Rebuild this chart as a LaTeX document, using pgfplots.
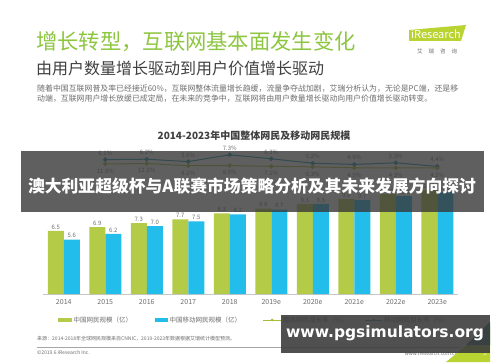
\documentclass[border=0pt]{standalone}
\usepackage{pgfplots}
\pgfplotsset{compat=1.18}
\usepackage{fontspec}
\setmainfont{Noto Sans CJK SC}
\newfontfamily\wm{DejaVu Sans}
\definecolor{cgreen}{HTML}{B4CB48}
\definecolor{cblue}{HTML}{22BDEB}
\definecolor{cteal}{HTML}{1B8FA6}
\definecolor{colive}{HTML}{A8BC3A}
\definecolor{tgreen}{HTML}{8DC63F}
\definecolor{tgray}{HTML}{404040}
\definecolor{lgray}{HTML}{6E6E6E}
\definecolor{logog}{HTML}{B9D332}
\begin{document}
\begin{tikzpicture}[x=1pt,y=1pt]
\fill[white] (0,0) rectangle (500,362);
% header
\node[anchor=west,text=tgreen,font=\fontsize{21.3}{21.3}\selectfont,inner sep=0] at (36,320) {增长转型，互联网基本面发生变化};
\node[anchor=west,text=tgray,font=\fontsize{16}{16}\selectfont,inner sep=0] at (36,294) {由用户数量增长驱动到用户价值增长驱动};
\node[anchor=west,text=lgray,font=\fontsize{7.9}{7.9}\selectfont,inner sep=0] at (37,273) {随着中国互联网普及率已经接近60\%，互联网整体流量增长趋缓，流量争夺战加剧，艾瑞分析认为，无论是PC端，还是移};
\node[anchor=west,text=lgray,font=\fontsize{7.9}{7.9}\selectfont,inner sep=0] at (37,263) {动端，互联网用户增长放缓已成定局，在未来的竞争中，互联网将由用户数量增长驱动向用户价值增长驱动转变。};
% logo
\fill[logog] (409,332) -- (466,337) -- (461,321) -- (409,321) -- cycle;
\node[text=white,font=\fontsize{11}{11}\selectfont,inner sep=0] at (436,327.5) {iResearch};
\node[text=lgray,font=\fontsize{5.5}{5.5}\selectfont,inner sep=0] at (437,311) {艾\hspace{6pt}瑞\hspace{6pt}咨\hspace{6pt}询};
% chart title
\node[text=tgray,font=\bfseries\fontsize{10}{10}\selectfont,inner sep=0] at (254,226) {2014-2023年中国整体网民及移动网民规模};
% bars
\begin{axis}[at={(43pt,68pt)}, anchor=south west, scale only axis,
  width=415pt, height=145.5pt, xmin=-0.5, xmax=9.5, ymin=0, ymax=15,
  axis x line*=bottom, axis y line=none,
  x axis line style={draw=black!22,-},
  xtick={0,...,9}, xticklabels={2014,2015,2016,2017,2018,2019e,2020e,2021e,2022e,2023e},
  major tick length=0pt,
  xticklabel style={font=\fontsize{7}{7}\selectfont, text=lgray, yshift=-2pt},
  ybar=0pt, bar width=16pt, enlargelimits=false,
  nodes near coords,
  every node near coord/.append style={font=\fontsize{6}{6}\selectfont, text=lgray, inner sep=1.5pt},
  /pgf/number format/assume math mode=true,
  /pgf/number format/fixed, /pgf/number format/precision=1, /pgf/number format/fixed zerofill]
\addplot[fill=cgreen, draw=none] coordinates {(0,6.5)(1,6.9)(2,7.3)(3,7.7)(4,8.3)(5,8.8)(6,9.3)(7,9.8)(8,10.3)(9,10.7)};
\addplot[fill=cblue, draw=none] coordinates {(0,5.6)(1,6.2)(2,7.0)(3,7.5)(4,8.2)(5,8.7)(6,9.3)(7,9.7)(8,10.1)(9,10.5)};
\end{axis}
% upper growth line
\begin{axis}[at={(43pt,68pt)}, anchor=south west, scale only axis,
  width=415pt, height=145.5pt, xmin=-0.5, xmax=9.5, ymin=-27.5, ymax=8.875,
  hide axis, clip=false,
  /pgf/number format/assume math mode=true,
  /pgf/number format/fixed, /pgf/number format/precision=1, /pgf/number format/fixed zerofill]
\addplot[cteal, line width=1pt, mark=*, mark size=1.7pt,
  nodes near coords={\pgfmathprintnumber{\pgfplotspointmeta}\%},
  every node near coord/.style={anchor=south, yshift=0.5pt, font=\fontsize{6}{6}\selectfont, text=lgray}]
  coordinates {(1,6.1)(2,6.2)(3,5.6)(4,7.3)(5,6.3)(6,5.2)(7,4.9)(8,5.3)(9,4.4)};
\end{axis}
% lower growth line
\begin{axis}[at={(43pt,68pt)}, anchor=south west, scale only axis,
  width=415pt, height=145.5pt, xmin=-0.5, xmax=9.5, ymin=-220.8, ymax=39,
  hide axis, clip=false,
  /pgf/number format/assume math mode=true,
  /pgf/number format/fixed, /pgf/number format/precision=1, /pgf/number format/fixed zerofill]
\addplot[colive, line width=1pt, mark=*, mark size=1.7pt,
  nodes near coords={\pgfmathprintnumber{\pgfplotspointmeta}\%},
  every node near coord/.style={anchor=north, yshift=-1pt, font=\fontsize{6}{6}\selectfont, text=lgray}]
  coordinates {(1,11.3)(2,12.2)(3,8.2)(4,8.5)(5,7.1)(6,6.3)(7,4.5)(8,4.3)(9,4.2)};
\end{axis}
% legend
\draw[cgreen, line width=3.5pt] (58,42) -- (72,42);
\node[anchor=west, font=\fontsize{6.5}{6.5}\selectfont, text=lgray, inner sep=0] at (73.5,42) {中国网民规模（亿）};
\draw[cblue, line width=3.5pt] (155,42) -- (168,42);
\node[anchor=west, font=\fontsize{6.5}{6.5}\selectfont, text=lgray, inner sep=0] at (169.5,42) {中国移动网民规模（亿）};
\draw[colive, line width=0.8pt] (263,42) -- (281,42); \fill[colive] (272,42) circle (1.5);
\node[anchor=west, font=\fontsize{6.5}{6.5}\selectfont, text=lgray, inner sep=0] at (283,42) {整体网民增长率（\%）};
\draw[cteal, line width=0.8pt] (365,42) -- (382,42); \fill[cteal] (373.5,42) circle (1.5);
\node[anchor=west, font=\fontsize{6.5}{6.5}\selectfont, text=lgray, inner sep=0] at (384,42) {移动网民增长率（\%）};
% footer
\node[anchor=west, font=\fontsize{5}{5}\selectfont, text=lgray, inner sep=0] at (37,23) {来源：2014-2018年全球网民规模来自CNNIC，2019-2023年数据根据艾瑞统计模型预测。};
\draw[black!35, line width=0.5pt] (37,15) -- (460,15);
\node[anchor=west, font=\fontsize{5}{5}\selectfont, text=lgray, inner sep=0] at (37,9) {©2019.6 iResearch Inc.};
\node[anchor=east, font=\fontsize{5}{5}\selectfont, text=lgray, inner sep=0] at (458,8) {www.iresearch.com.cn};
\fill[logog] (446,0) -- (490,36) -- (490,0) -- cycle;
\fill[cteal!70!black] (466,17) -- (490,40) -- (490,17) -- cycle;
\node[text=white, font=\fontsize{6}{6}\selectfont, inner sep=0] at (485,9) {5};
% overlays
\fill[black!78, opacity=0.8] (21,211) rectangle (484,150);
\node[text=white, font=\bfseries\fontsize{16.8}{16.8}\selectfont, inner sep=0] at (252,176) {澳大利亚超级杯与A联赛市场策略分析及其未来发展方向探讨};
\fill[black!76, opacity=0.9] (281,47) rectangle (490,9);
\node[text=white, font=\wm\bfseries\fontsize{15.5}{15.5}\selectfont, inner sep=0] at (385,29) {www.pgsimulators.org};
\end{tikzpicture}
\end{document}
